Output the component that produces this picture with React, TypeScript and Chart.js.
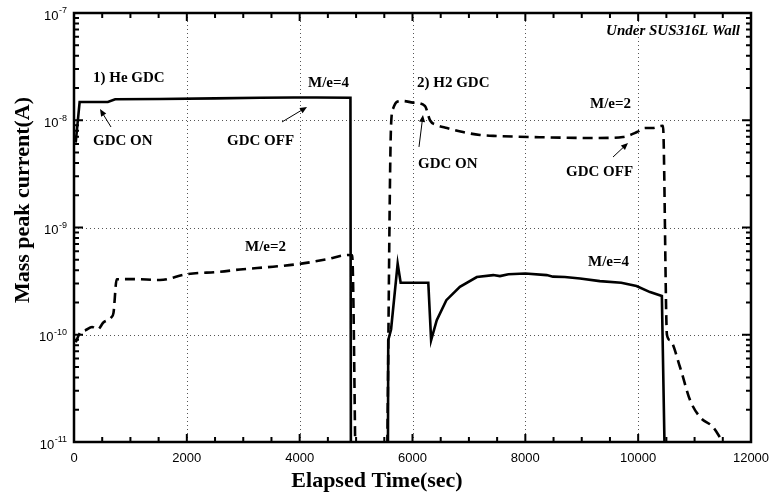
import React, { useEffect, useRef } from "react";
import { Chart, registerables } from "chart.js";

Chart.register(...registerables);

// ---- Data ----
// M/e=4 (solid)
const m4Time = [30, 100, 600, 730, 1520, 2500, 3300, 3900, 4300, 4900, 4910, 5560, 5570, 5620, 5737, 5790, 6280, 6330, 6430, 6600, 6840, 7140, 7430, 7550, 7700, 8000, 8380, 8490, 8700, 8970, 9320, 9700, 9970, 10210, 10420, 10500];
const m4Current = [6.2e-9, 1.48e-8, 1.48e-8, 1.57e-8, 1.58e-8, 1.6e-8, 1.62e-8, 1.63e-8, 1.63e-8, 1.62e-8, 1e-12, 1e-12, 8.9e-11, 1.12e-10, 4.6e-10, 3.05e-10, 3.05e-10, 8.9e-11, 1.37e-10, 2.1e-10, 2.8e-10, 3.45e-10, 3.6e-10, 3.52e-10, 3.66e-10, 3.72e-10, 3.6e-10, 3.48e-10, 3.45e-10, 3.35e-10, 3.16e-10, 3.05e-10, 2.85e-10, 2.5e-10, 2.3e-10, 1e-12];

// M/e=2 (dashed)
const m2Time = [30, 110, 200, 320, 420, 520, 660, 700, 757, 1046, 1524, 1985, 2588, 2942, 3528, 3988, 4479, 4856, 4930, 5020, 5520, 5620, 5660, 5720, 5832, 6009, 6221, 6310, 6434, 6611, 6895, 7196, 7498, 8082, 9270, 9731, 9979, 10121, 10263, 10387, 10440, 10510, 10564, 10741, 10919, 11096, 11326, 11503, 11650];
const m2Current = [8.5e-11, 1.05e-10, 1.1e-10, 1.18e-10, 1.12e-10, 1.3e-10, 1.45e-10, 1.6e-10, 3.29e-10, 3.3e-10, 3.24e-10, 3.66e-10, 3.87e-10, 4.06e-10, 4.31e-10, 4.57e-10, 5.05e-10, 5.54e-10, 5.5e-10, 1e-12, 1e-12, 9e-9, 1.3e-8, 1.48e-8, 1.51e-8, 1.46e-8, 1.36e-8, 1.0e-8, 9.0e-9, 8.47e-9, 7.76e-9, 7.29e-9, 7.13e-9, 6.98e-9, 6.83e-9, 6.98e-9, 7.76e-9, 8.47e-9, 8.47e-9, 8.84e-9, 8.9e-9, 1.0e-10, 8.9e-11, 5.0e-11, 2.46e-11, 1.71e-11, 1.38e-11, 1.0e-11, 8e-12];

// Axes
const xTickValues = [0, 2000, 4000, 6000, 8000, 10000, 12000];
const xTickLabels = ["0", "2000", "4000", "6000", "8000", "10000", "12000"];
const yTickExponents = [-11, -10, -9, -8, -7];
const yTickExpLabels = ["-11", "-10", "-9", "-8", "-7"];
const xTitle = "Elapsed Time(sec)";
const yTitle = "Mass peak current(A)";

// Annotations (data coordinates)
const noteTexts = ["Under SUS316L Wall", "1) He GDC", "M/e=4", "GDC ON", "GDC OFF", "2) H2 GDC", "M/e=2", "GDC ON", "GDC OFF", "M/e=2", "M/e=4"];
const noteX = [11805, 337, 4148, 337, 2712, 6080, 9146, 6097, 8721, 3031, 9111];
const noteY = [6.79e-8, 2.48e-8, 2.2e-8, 6.34e-9, 6.34e-9, 2.22e-8, 1.42e-8, 3.91e-9, 3.26e-9, 6.52e-10, 4.76e-10];
// Arrows: from (x0,y0) to (x1,y1)
const arrowFromX = [656, 3687, 6115, 9554];
const arrowFromY = [8.65e-9, 9.64e-9, 5.64e-9, 4.54e-9];
const arrowToX = [461, 4130, 6186, 9820];
const arrowToY = [1.27e-8, 1.33e-8, 1.12e-8, 6.14e-9];

const SANS = '"Liberation Sans", Arial, sans-serif';
const SERIF = '"Liberation Serif", "Times New Roman", serif';

const decorPlugin = {
  id: "decor",
  beforeDatasetsDraw(chart: any) {
    const { ctx, chartArea: a, scales } = chart;
    const x = scales.x, y = scales.y;
    ctx.save();
    ctx.strokeStyle = "#555";
    ctx.lineWidth = 1;
    ctx.setLineDash([1, 3]);
    for (const v of xTickValues.slice(1, -1)) {
      const px = Math.round(x.getPixelForValue(v)) + 0.5;
      ctx.beginPath(); ctx.moveTo(px, a.top); ctx.lineTo(px, a.bottom); ctx.stroke();
    }
    for (const e of yTickExponents.slice(1, -1)) {
      const py = Math.round(y.getPixelForValue(Math.pow(10, e))) + 0.5;
      ctx.beginPath(); ctx.moveTo(a.left, py); ctx.lineTo(a.right, py); ctx.stroke();
    }
    ctx.restore();
  },
  afterDatasetsDraw(chart: any) {
    const { ctx, chartArea: a, scales } = chart;
    const x = scales.x, y = scales.y;
    ctx.save();
    ctx.strokeStyle = "#000";
    ctx.fillStyle = "#000";
    ctx.setLineDash([]);
    // ticks
    ctx.lineWidth = 2;
    for (let v = 500; v < 12000; v += 500) {
      const px = x.getPixelForValue(v);
      const len = v % 2000 === 0 ? 8 : 5;
      ctx.beginPath();
      ctx.moveTo(px, a.bottom); ctx.lineTo(px, a.bottom - len);
      ctx.moveTo(px, a.top); ctx.lineTo(px, a.top + len);
      ctx.stroke();
    }
    for (let e = -11; e < -7; e++) {
      for (let m = 1; m <= 9; m++) {
        if (m === 1 && e === -11) continue;
        const py = y.getPixelForValue(m * Math.pow(10, e));
        const len = m === 1 ? 9 : 5;
        ctx.beginPath();
        ctx.moveTo(a.left, py); ctx.lineTo(a.left + len, py);
        ctx.moveTo(a.right, py); ctx.lineTo(a.right - len, py);
        ctx.stroke();
      }
    }
    // frame
    ctx.lineWidth = 2.5;
    ctx.strokeRect(a.left, a.top, a.right - a.left, a.bottom - a.top);

    // x tick labels
    ctx.font = `13px ${SANS}`;
    ctx.textAlign = "center";
    ctx.textBaseline = "middle";
    xTickValues.forEach((v, i) => {
      ctx.fillText(xTickLabels[i], x.getPixelForValue(v), a.bottom + 16);
    });
    // y tick labels with superscript
    yTickExponents.forEach((e, i) => {
      const py = y.getPixelForValue(Math.pow(10, e));
      const right = a.left - 7;
      ctx.font = `9px ${SANS}`;
      ctx.textAlign = "right";
      const ew = ctx.measureText(yTickExpLabels[i]).width;
      ctx.fillText(yTickExpLabels[i], right, py - 2);
      ctx.font = `13px ${SANS}`;
      ctx.fillText("10", right - ew - 0.5, py + 3);
    });
    // axis titles
    ctx.font = `bold 22px ${SERIF}`;
    ctx.textAlign = "center";
    ctx.textBaseline = "alphabetic";
    ctx.fillText(xTitle, 377, 487);
    ctx.save();
    ctx.translate(29, 200);
    ctx.rotate(-Math.PI / 2);
    ctx.fillText(yTitle, 0, 0);
    ctx.restore();

    // annotations
    ctx.textBaseline = "middle";
    noteTexts.forEach((t, i) => {
      const px = x.getPixelForValue(noteX[i]);
      const py = y.getPixelForValue(noteY[i]);
      if (i === 0) {
        ctx.font = `italic bold 15px ${SERIF}`;
        ctx.textAlign = "right";
      } else {
        ctx.font = `bold 15px ${SERIF}`;
        ctx.textAlign = "left";
      }
      ctx.fillText(t, px, py);
    });
    // arrows
    ctx.lineWidth = 1;
    arrowFromX.forEach((_, i) => {
      const x0 = x.getPixelForValue(arrowFromX[i]);
      const y0 = y.getPixelForValue(arrowFromY[i]);
      const x1 = x.getPixelForValue(arrowToX[i]);
      const y1 = y.getPixelForValue(arrowToY[i]);
      const ang = Math.atan2(y1 - y0, x1 - x0);
      ctx.beginPath(); ctx.moveTo(x0, y0); ctx.lineTo(x1 - 4 * Math.cos(ang), y1 - 4 * Math.sin(ang)); ctx.stroke();
      const L = 7, W = 3;
      ctx.beginPath();
      ctx.moveTo(x1, y1);
      ctx.lineTo(x1 - L * Math.cos(ang) + W * Math.sin(ang), y1 - L * Math.sin(ang) - W * Math.cos(ang));
      ctx.lineTo(x1 - L * Math.cos(ang) - W * Math.sin(ang), y1 - L * Math.sin(ang) + W * Math.cos(ang));
      ctx.closePath();
      ctx.fill();
    });
    ctx.restore();
  },
};

export default function App() {
  const ref = useRef<HTMLCanvasElement | null>(null);
  useEffect(() => {
    if (!ref.current) return;
    const chart = new Chart(ref.current, {
      type: "line",
      data: {
        datasets: [
          {
            label: "M/e=4",
            data: m4Time.map((t, i) => ({ x: t, y: m4Current[i] })),
            borderColor: "#000",
            borderWidth: 2.6,
            pointRadius: 0,
            tension: 0,
            clip: 0,
          } as any,
          {
            label: "M/e=2",
            data: m2Time.map((t, i) => ({ x: t, y: m2Current[i] })),
            borderColor: "#000",
            borderWidth: 2.6,
            borderDash: [10, 6],
            pointRadius: 0,
            cubicInterpolationMode: "monotone",
            clip: 0,
          } as any,
        ],
      },
      options: {
        animation: false,
        responsive: false,
        devicePixelRatio: 1,
        layout: { padding: { left: 74, top: 13, right: 20, bottom: 50 } },
        scales: {
          x: { type: "linear", min: 0, max: 12000, display: false },
          y: { type: "logarithmic", min: 1e-11, max: 1e-7, display: false },
        },
        plugins: { legend: { display: false }, tooltip: { enabled: false } },
      },
      plugins: [decorPlugin],
    });
    return () => chart.destroy();
  }, []);
  return (
    <div style={{ position: "absolute", left: 0, top: 0, width: 771, height: 492, background: "#fff" }}>
      <canvas ref={ref} width={771} height={492} />
    </div>
  );
}
